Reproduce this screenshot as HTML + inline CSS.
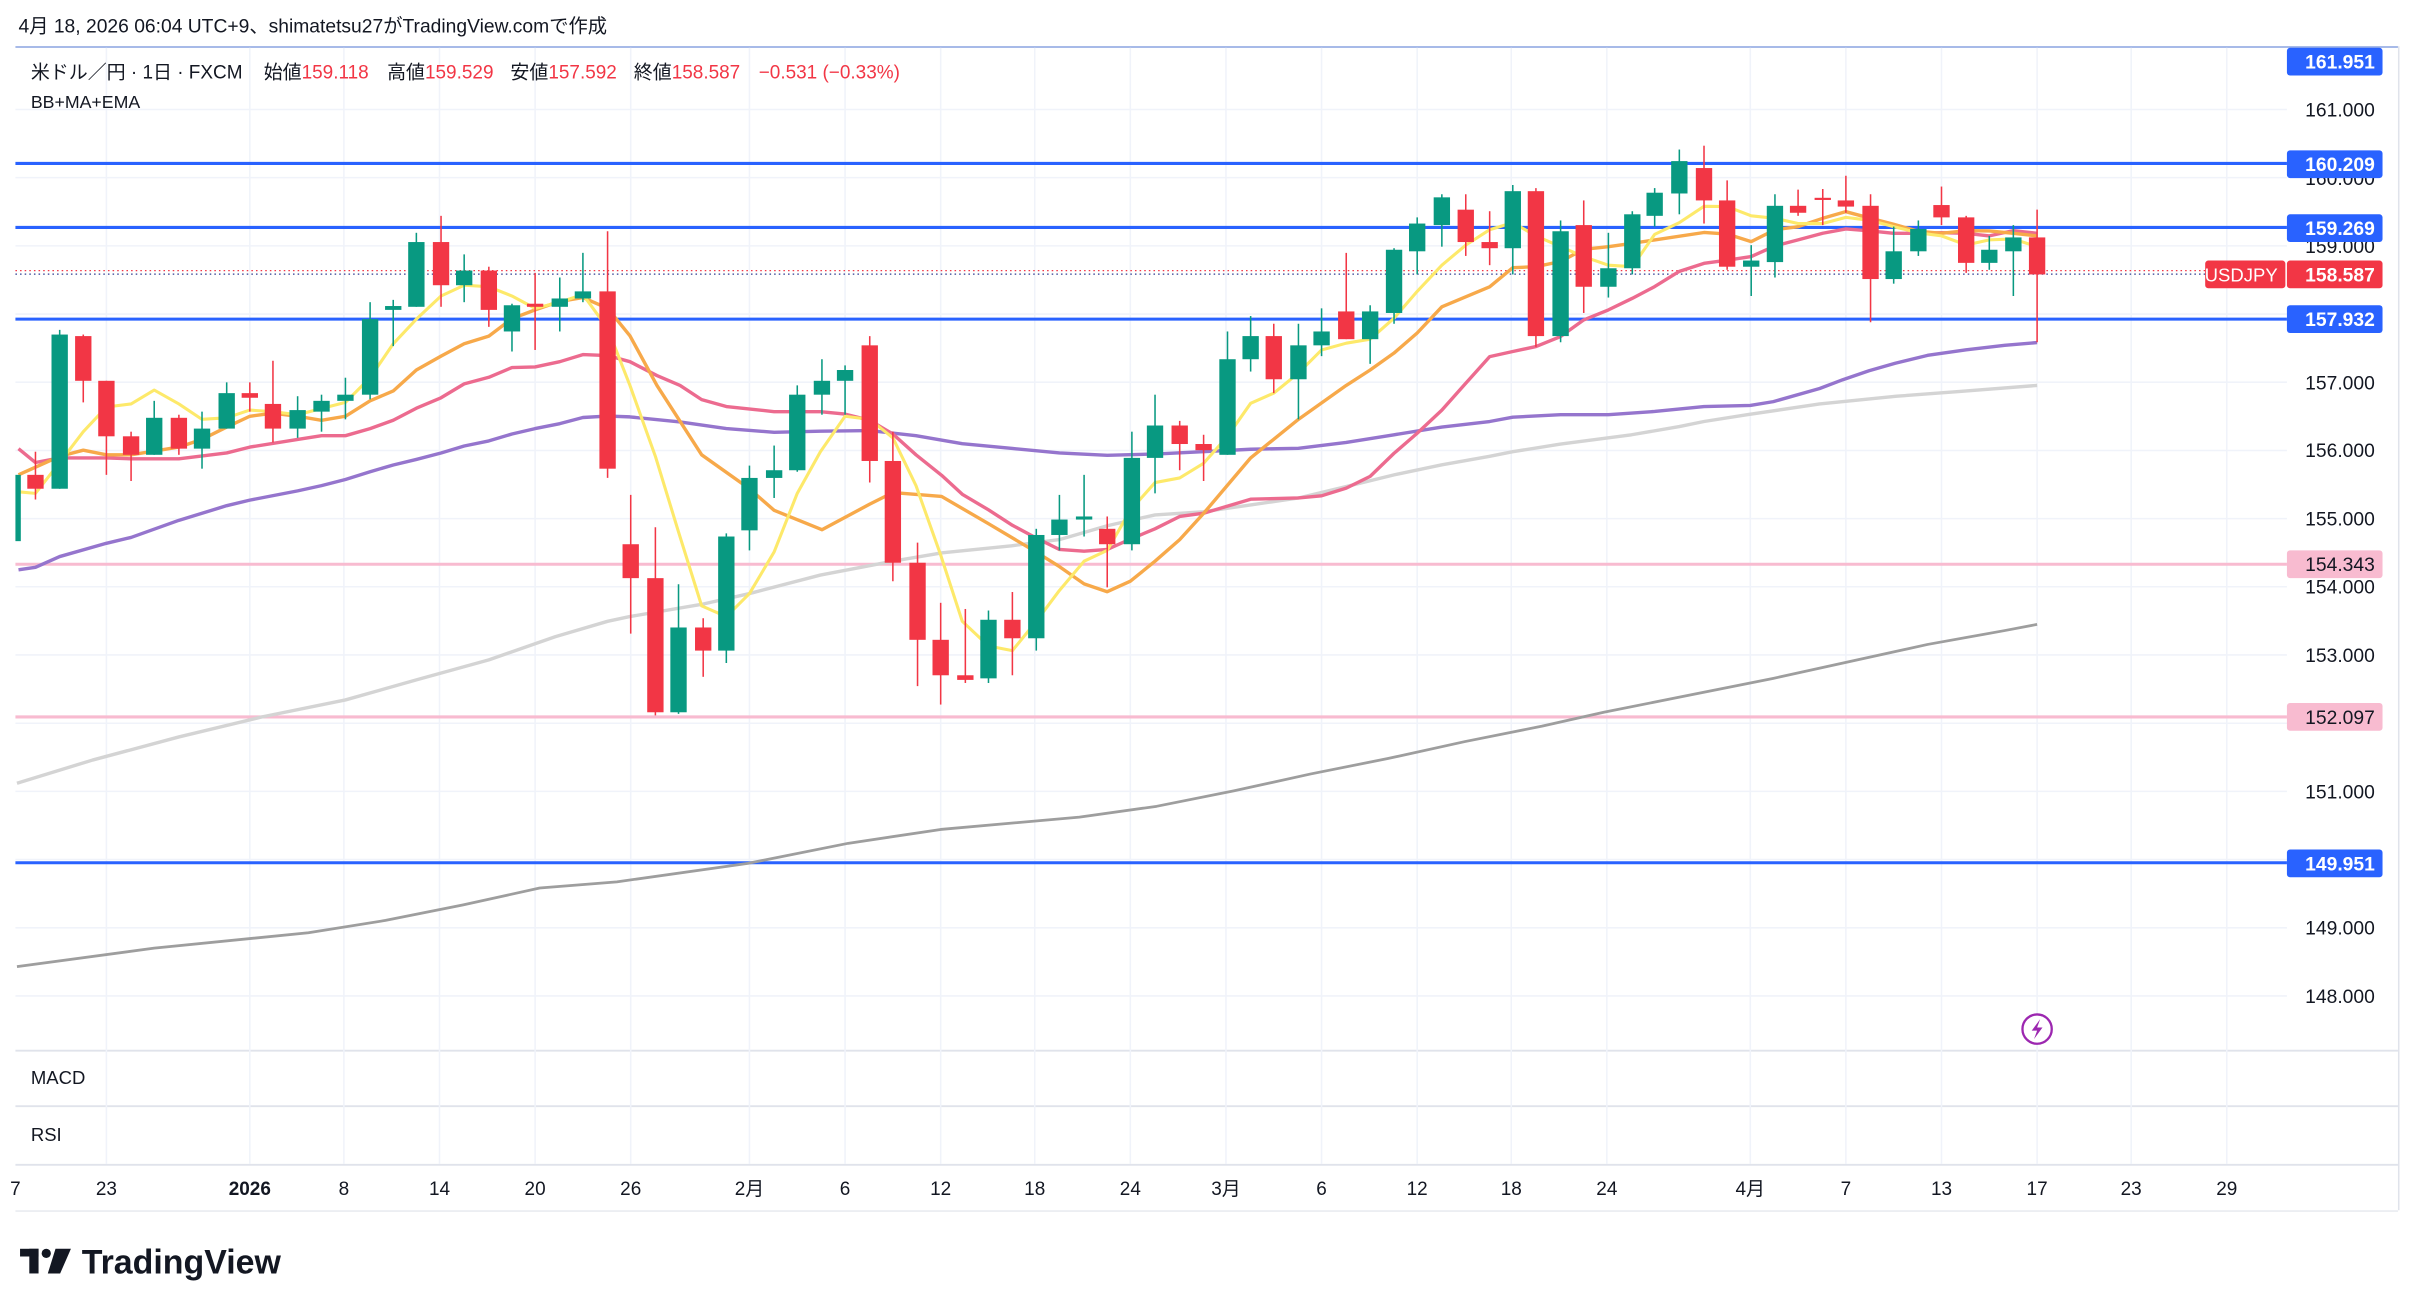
<!DOCTYPE html>
<html><head><meta charset="utf-8"><style>
html,body{margin:0;padding:0;background:#fff;}
svg{display:block;}
text{font-family:"Liberation Sans","Noto Sans CJK JP",sans-serif;}
</style></head><body>
<svg width="2418" height="1312" viewBox="0 0 1568 851" preserveAspectRatio="none" xmlns="http://www.w3.org/2000/svg">
<rect width="1568" height="851" fill="#fff"/>
<text x="12" y="21" font-size="12.5" fill="#131722">4月 18, 2026 06:04 UTC+9、shimatetsu27がTradingView.comで作成</text>
<!-- frame -->
<line x1="10" y1="30.5" x2="1555" y2="30.5" stroke="#8aa4e0" stroke-width="1"/>
<line x1="1555.5" y1="30" x2="1555.5" y2="785" stroke="#e0e3eb" stroke-width="1"/>
<line x1="10" y1="681.5" x2="1555" y2="681.5" stroke="#e0e3eb" stroke-width="1.2"/>
<line x1="10" y1="717.5" x2="1555" y2="717.5" stroke="#e0e3eb" stroke-width="1.2"/>
<line x1="10" y1="755.5" x2="1555" y2="755.5" stroke="#e0e3eb" stroke-width="1.2"/>
<line x1="10" y1="785.5" x2="1555" y2="785.5" stroke="#eceef2" stroke-width="1.2"/>
<!-- grid -->
<g stroke="#f0f3fa" stroke-width="1">
<line x1="10" y1="71" x2="1483" y2="71"/><line x1="10" y1="115.2" x2="1483" y2="115.2"/><line x1="10" y1="159.5" x2="1483" y2="159.5"/><line x1="10" y1="203.7" x2="1483" y2="203.7"/><line x1="10" y1="247.9" x2="1483" y2="247.9"/><line x1="10" y1="292.2" x2="1483" y2="292.2"/><line x1="10" y1="336.4" x2="1483" y2="336.4"/><line x1="10" y1="380.6" x2="1483" y2="380.6"/><line x1="10" y1="424.8" x2="1483" y2="424.8"/><line x1="10" y1="469.1" x2="1483" y2="469.1"/><line x1="10" y1="513.3" x2="1483" y2="513.3"/><line x1="10" y1="557.5" x2="1483" y2="557.5"/><line x1="10" y1="601.8" x2="1483" y2="601.8"/><line x1="10" y1="646" x2="1483" y2="646"/>
<line x1="69" y1="31" x2="69" y2="755"/><line x1="162" y1="31" x2="162" y2="755"/><line x1="223" y1="31" x2="223" y2="755"/><line x1="285" y1="31" x2="285" y2="755"/><line x1="347" y1="31" x2="347" y2="755"/><line x1="409" y1="31" x2="409" y2="755"/><line x1="486" y1="31" x2="486" y2="755"/><line x1="548" y1="31" x2="548" y2="755"/><line x1="610" y1="31" x2="610" y2="755"/><line x1="671" y1="31" x2="671" y2="755"/><line x1="733" y1="31" x2="733" y2="755"/><line x1="795" y1="31" x2="795" y2="755"/><line x1="857" y1="31" x2="857" y2="755"/><line x1="919" y1="31" x2="919" y2="755"/><line x1="980" y1="31" x2="980" y2="755"/><line x1="1042" y1="31" x2="1042" y2="755"/><line x1="1135" y1="31" x2="1135" y2="755"/><line x1="1197" y1="31" x2="1197" y2="755"/><line x1="1259" y1="31" x2="1259" y2="755"/><line x1="1321" y1="31" x2="1321" y2="755"/><line x1="1382" y1="31" x2="1382" y2="755"/><line x1="1444" y1="31" x2="1444" y2="755"/>
</g>
<!-- horizontal levels -->
<g stroke-width="2">
<line x1="10" y1="106" x2="1483" y2="106" stroke="#2962ff"/>
<line x1="10" y1="147.5" x2="1483" y2="147.5" stroke="#2962ff"/>
<line x1="10" y1="207" x2="1483" y2="207" stroke="#2962ff"/>
<line x1="10" y1="559.6" x2="1483" y2="559.6" stroke="#2962ff"/>
<line x1="10" y1="366" x2="1483" y2="366" stroke="#f8bbd0"/>
<line x1="10" y1="465" x2="1483" y2="465" stroke="#f8bbd0"/>
</g>
<line x1="10" y1="175.5" x2="1430" y2="175.5" stroke="#f23645" stroke-width="0.8" stroke-dasharray="1,2"/>
<line x1="10" y1="177.8" x2="1430" y2="177.8" stroke="#2a3a8f" stroke-width="0.8" stroke-dasharray="1,2"/>
<!-- MAs -->
<g fill="none" stroke-linejoin="round" stroke-width="2.2">
<polyline stroke="#9e9e9e" stroke-width="1.8" points="11,627 100,615 200,605 250,597 300,587 350,576 400,572 485,560 550,547 610,538 700,530 750,523 800,513 850,502 900,492 950,481 1000,471 1040,462 1100,450 1150,440 1200,429 1250,418 1300,409 1321,405"/>
<polyline stroke="#d4d4d4" points="11,508 60,493 116,478 170,465 224,454 270,441 317,428 360,413 394,403 408,400 455,392 486,385 532,373 579,364 611,358.6 656,354 687,350 718,341 749,334 780,332 811,327.5 842,323 873,315.6 904,308 935,301.5 966,296 981,293 1012,288 1043,284 1058,282 1089,276.7 1105,273.4 1133,269 1180,262 1230,257 1270,254 1321,250"/>
<polyline stroke="#9575cd" points="12,369.6 23,368 38.7,361 69,352.4 85,348.6 116,337.5 147,328 162,324.4 193,318.4 208.5,315 224,311 240,306 255,301.6 270,298 286,293.8 301,289.3 317,286 332,281.5 347,278 363,274.8 378,270.8 394,269.9 408.5,270.4 441,273.7 471,278 502,280.4 532,279.7 564,279.3 594,282.6 624,287.8 656.5,290.9 687,293.8 718,295.3 749,294.5 780,293 811,291.4 842,290.8 873,287 904,282 935,277 966,273.4 981,270.6 1012,269 1043,269 1073,266.9 1105,263.7 1135,263 1150,260.5 1180,252 1195,246.3 1212,240.5 1229,235.6 1250,230.5 1275,226.9 1300,224 1321,222.2"/>
<polyline stroke="#ec6b8f" points="12,291 23,300 38.7,297 69,297 85,297.6 116,297.6 147,293.8 162,290 193,285 208.5,282.6 224,282.6 240,278 255,272.6 270,264.8 286,258 301,249 317,244.7 332,238.4 347,238 363,234.6 378,230 394,230.6 408.5,234.6 426,243.6 441,250 455,259.2 471,263.7 502,267 532,267 548,268.6 564,272.6 579,281.5 594,295 610.6,308.3 624,320.6 641,330.7 656.5,340.7 671,348.5 687,356.4 703,357.5 718,356.4 733,349.7 749,343 765,335 780.5,332.9 811,323.8 842,323 857,321.6 873,316.6 888.5,309 904,294 919,281 935,266 950.5,248.6 966,231.3 981,228 996,224.8 1012,218.3 1027,207.5 1043,201 1058.5,193.5 1073,185.9 1089,176 1105,170.8 1120,168.8 1135.6,166.4 1151,159.5 1166,155.6 1182,151.3 1197,148.5 1213,149.8 1228,151.3 1244,151.3 1259,150.9 1275,151.3 1290,153 1305.6,149.6 1321,151.3"/>
<polyline stroke="#f7a94a" points="12,308 38.7,296 54,292 69,295 85,295 116,290 131,285 147,277 162,270 177,268 193,270 208.5,272.6 224,270 240,260 255,253.6 270,240 286,231 301,223 317,218 332,206.7 347,201 363,195.5 378,193 394,200 408.5,217.8 426,250 455,295 486,317 502,331 533,343.6 564,327 579,319.5 610.6,322 641,339.7 671,357.5 687,367.5 703,378.7 718,383.8 733,377 749,364 765,350 780.5,333 811,297 842,272 873,250 888.5,240 904,229 919,216 935,199 966,186 981,173.6 996,173 1012,169.6 1027,161.7 1043,160 1058.5,157.8 1073,155.6 1105,150.8 1120,151.8 1135.6,156.7 1151,149 1166,147 1182,141.6 1197,137.3 1213,141.6 1228,145.5 1244,150 1259,151.3 1275,149.6 1290,149.8 1305.6,151.3 1321,153"/>
<polyline stroke="#fde96a" stroke-width="2" points="12,319 23,320 38.7,300 54,280 69,264 85,262 100,253 116,262 131,272 147,271 162,266 177,267 193,269 208.5,265 224,261 240,245 255,223 270,207 286,192 301,185 317,186 332,192 347,200 363,196 378,191 394,213 408.5,250 425,296 440,345 455,393 471,400 486,385 502,358 517,320 532,293 548,270 564,272 579,284 594,315 610,360 624,403 641,419 656.5,422 672,403 687,383 703,364 718,357 733,331 749,313 765,310 780.5,300.5 796,283 811,261.6 826,255 842,242 857,227 873,222.6 888.5,220 904,206.4 919,189 935,172 950.5,159 966,149 981,144.4 996,153 1012,160 1027,166.5 1043,172 1058.5,173 1073,152 1089,144.4 1105,133.8 1120,134 1135.6,140 1151,141.6 1166,145 1182,145 1197,141 1213,143 1228,147 1244,151 1259,153 1275,158.9 1290,155.6 1305.6,155 1321,160"/>
</g>
<!-- candles -->
<g stroke-width="1">
<g fill="#089981" stroke="#089981">
<rect x="10" y="308" width="3.5" height="43" stroke="none"/>
<line x1="38.7" y1="214" x2="38.7" y2="317"/><rect x="33.4" y="217" width="10.6" height="100" stroke="none"/>
<line x1="100" y1="260" x2="100" y2="295"/><rect x="94.7" y="271" width="10.6" height="24" stroke="none"/>
<line x1="131" y1="267" x2="131" y2="304"/><rect x="125.7" y="278" width="10.6" height="13" stroke="none"/>
<line x1="147" y1="248" x2="147" y2="278"/><rect x="141.7" y="255" width="10.6" height="23" stroke="none"/>
<line x1="193" y1="257" x2="193" y2="284"/><rect x="187.7" y="266" width="10.6" height="12" stroke="none"/>
<line x1="208.5" y1="256" x2="208.5" y2="280"/><rect x="203.2" y="260" width="10.6" height="7" stroke="none"/>
<line x1="224" y1="245" x2="224" y2="272"/><rect x="218.7" y="256" width="10.6" height="4" stroke="none"/>
<line x1="240" y1="196" x2="240" y2="259"/><rect x="234.7" y="207" width="10.6" height="49" stroke="none"/>
<line x1="255" y1="194.5" x2="255" y2="224.5"/><rect x="249.7" y="198.5" width="10.6" height="2.5" stroke="none"/>
<line x1="270" y1="151" x2="270" y2="199"/><rect x="264.7" y="157" width="10.6" height="42" stroke="none"/>
<line x1="301" y1="165" x2="301" y2="196"/><rect x="295.7" y="175.5" width="10.6" height="9.5" stroke="none"/>
<line x1="332" y1="197" x2="332" y2="228"/><rect x="326.7" y="198" width="10.6" height="17" stroke="none"/>
<line x1="363" y1="180" x2="363" y2="215"/><rect x="357.7" y="193.6" width="10.6" height="5.4" stroke="none"/>
<line x1="378" y1="164" x2="378" y2="196"/><rect x="372.7" y="189" width="10.6" height="4.6" stroke="none"/>
<line x1="440" y1="379" x2="440" y2="463"/><rect x="434.7" y="407" width="10.6" height="55" stroke="none"/>
<line x1="471" y1="346" x2="471" y2="430"/><rect x="465.7" y="348" width="10.6" height="74" stroke="none"/>
<line x1="486" y1="302" x2="486" y2="357"/><rect x="480.7" y="310" width="10.6" height="34" stroke="none"/>
<line x1="502" y1="289" x2="502" y2="323"/><rect x="496.7" y="305" width="10.6" height="5" stroke="none"/>
<line x1="517" y1="250" x2="517" y2="306"/><rect x="511.7" y="256" width="10.6" height="49" stroke="none"/>
<line x1="533" y1="233" x2="533" y2="269"/><rect x="527.7" y="247" width="10.6" height="9" stroke="none"/>
<line x1="548" y1="237" x2="548" y2="269"/><rect x="542.7" y="240" width="10.6" height="7" stroke="none"/>
<line x1="641" y1="396" x2="641" y2="443"/><rect x="635.7" y="402" width="10.6" height="38" stroke="none"/>
<line x1="672" y1="343" x2="672" y2="422"/><rect x="666.7" y="347" width="10.6" height="67" stroke="none"/>
<line x1="687" y1="321" x2="687" y2="357"/><rect x="681.7" y="337" width="10.6" height="10" stroke="none"/>
<line x1="703" y1="308" x2="703" y2="348"/><rect x="697.7" y="335" width="10.6" height="2" stroke="none"/>
<line x1="734" y1="280" x2="734" y2="357"/><rect x="728.7" y="297" width="10.6" height="56" stroke="none"/>
<line x1="749" y1="256" x2="749" y2="320"/><rect x="743.7" y="276" width="10.6" height="21" stroke="none"/>
<line x1="796" y1="215" x2="796" y2="295"/><rect x="790.7" y="233" width="10.6" height="62" stroke="none"/>
<line x1="811" y1="205" x2="811" y2="241"/><rect x="805.7" y="218" width="10.6" height="15" stroke="none"/>
<line x1="842" y1="210" x2="842" y2="272"/><rect x="836.7" y="224" width="10.6" height="22" stroke="none"/>
<line x1="857" y1="200" x2="857" y2="231"/><rect x="851.7" y="215" width="10.6" height="9" stroke="none"/>
<line x1="888.5" y1="198" x2="888.5" y2="236"/><rect x="883.2" y="202" width="10.6" height="18" stroke="none"/>
<line x1="904" y1="161" x2="904" y2="210"/><rect x="898.7" y="162" width="10.6" height="41" stroke="none"/>
<line x1="919" y1="141" x2="919" y2="178"/><rect x="913.7" y="145" width="10.6" height="18" stroke="none"/>
<line x1="935" y1="126" x2="935" y2="160"/><rect x="929.7" y="128" width="10.6" height="18" stroke="none"/>
<line x1="981" y1="120" x2="981" y2="178"/><rect x="975.7" y="124" width="10.6" height="37" stroke="none"/>
<line x1="1012" y1="143" x2="1012" y2="222"/><rect x="1006.7" y="150" width="10.6" height="68" stroke="none"/>
<line x1="1043" y1="151" x2="1043" y2="193"/><rect x="1037.7" y="174" width="10.6" height="12" stroke="none"/>
<line x1="1058.5" y1="137" x2="1058.5" y2="178"/><rect x="1053.2" y="139" width="10.6" height="35" stroke="none"/>
<line x1="1073" y1="122" x2="1073" y2="147"/><rect x="1067.7" y="125" width="10.6" height="15" stroke="none"/>
<line x1="1089" y1="97" x2="1089" y2="139"/><rect x="1083.7" y="104.5" width="10.6" height="21" stroke="none"/>
<line x1="1135.6" y1="159" x2="1135.6" y2="192"/><rect x="1130.3" y="169" width="10.6" height="4" stroke="none"/>
<line x1="1151" y1="126" x2="1151" y2="180"/><rect x="1145.7" y="133.5" width="10.6" height="36.5" stroke="none"/>
<line x1="1228" y1="147" x2="1228" y2="184"/><rect x="1222.7" y="163" width="10.6" height="18" stroke="none"/>
<line x1="1244" y1="143" x2="1244" y2="166"/><rect x="1238.7" y="148.5" width="10.6" height="14.5" stroke="none"/>
<line x1="1290" y1="153" x2="1290" y2="175"/><rect x="1284.7" y="162" width="10.6" height="8.5" stroke="none"/>
<line x1="1305.6" y1="146" x2="1305.6" y2="192"/><rect x="1300.3" y="154" width="10.6" height="9" stroke="none"/>
</g>
<g fill="#f23645" stroke="#f23645">
<line x1="23" y1="293" x2="23" y2="324"/><rect x="17.7" y="308" width="10.6" height="9" stroke="none"/>
<line x1="54" y1="217" x2="54" y2="261"/><rect x="48.7" y="218" width="10.6" height="29" stroke="none"/>
<line x1="69" y1="247" x2="69" y2="308"/><rect x="63.7" y="247" width="10.6" height="36" stroke="none"/>
<line x1="85" y1="280" x2="85" y2="312"/><rect x="79.7" y="283" width="10.6" height="12" stroke="none"/>
<line x1="116" y1="269" x2="116" y2="295"/><rect x="110.7" y="271" width="10.6" height="20" stroke="none"/>
<line x1="162" y1="248" x2="162" y2="267"/><rect x="156.7" y="255" width="10.6" height="3" stroke="none"/>
<line x1="177" y1="234" x2="177" y2="287"/><rect x="171.7" y="262" width="10.6" height="16" stroke="none"/>
<line x1="286" y1="140" x2="286" y2="199"/><rect x="280.7" y="157" width="10.6" height="28" stroke="none"/>
<line x1="317" y1="173" x2="317" y2="212"/><rect x="311.7" y="175.5" width="10.6" height="25.5" stroke="none"/>
<line x1="347" y1="177" x2="347" y2="227"/><rect x="341.7" y="197" width="10.6" height="2" stroke="none"/>
<line x1="394" y1="150" x2="394" y2="310"/><rect x="388.7" y="189" width="10.6" height="115" stroke="none"/>
<line x1="409" y1="321" x2="409" y2="411"/><rect x="403.7" y="353" width="10.6" height="22" stroke="none"/>
<line x1="425" y1="342" x2="425" y2="464"/><rect x="419.7" y="375" width="10.6" height="87" stroke="none"/>
<line x1="456" y1="401" x2="456" y2="439"/><rect x="450.7" y="407" width="10.6" height="15" stroke="none"/>
<line x1="564" y1="218" x2="564" y2="313"/><rect x="558.7" y="224" width="10.6" height="75" stroke="none"/>
<line x1="579" y1="280" x2="579" y2="377"/><rect x="573.7" y="299" width="10.6" height="66" stroke="none"/>
<line x1="595" y1="352" x2="595" y2="445"/><rect x="589.7" y="365" width="10.6" height="50" stroke="none"/>
<line x1="610" y1="391" x2="610" y2="457"/><rect x="604.7" y="415" width="10.6" height="23" stroke="none"/>
<line x1="626" y1="395" x2="626" y2="443"/><rect x="620.7" y="438" width="10.6" height="3" stroke="none"/>
<line x1="656.5" y1="384" x2="656.5" y2="438"/><rect x="651.2" y="402" width="10.6" height="12" stroke="none"/>
<line x1="718" y1="335" x2="718" y2="381"/><rect x="712.7" y="343" width="10.6" height="10" stroke="none"/>
<line x1="765" y1="273" x2="765" y2="305"/><rect x="759.7" y="276" width="10.6" height="12" stroke="none"/>
<line x1="780.5" y1="282" x2="780.5" y2="312"/><rect x="775.2" y="288" width="10.6" height="4" stroke="none"/>
<line x1="826" y1="210" x2="826" y2="255"/><rect x="820.7" y="218" width="10.6" height="28" stroke="none"/>
<line x1="873" y1="164" x2="873" y2="220"/><rect x="867.7" y="202" width="10.6" height="18" stroke="none"/>
<line x1="950.5" y1="126" x2="950.5" y2="166"/><rect x="945.2" y="136" width="10.6" height="21" stroke="none"/>
<line x1="966" y1="137" x2="966" y2="172"/><rect x="960.7" y="157" width="10.6" height="4" stroke="none"/>
<line x1="996" y1="122" x2="996" y2="225"/><rect x="990.7" y="124" width="10.6" height="94" stroke="none"/>
<line x1="1027" y1="130" x2="1027" y2="203"/><rect x="1021.7" y="146" width="10.6" height="40" stroke="none"/>
<line x1="1105" y1="94.5" x2="1105" y2="145"/><rect x="1099.7" y="109" width="10.6" height="21" stroke="none"/>
<line x1="1120" y1="117" x2="1120" y2="175"/><rect x="1114.7" y="130" width="10.6" height="43" stroke="none"/>
<line x1="1166" y1="123" x2="1166" y2="140"/><rect x="1160.7" y="133.5" width="10.6" height="4.5" stroke="none"/>
<line x1="1182" y1="122.6" x2="1182" y2="146"/><rect x="1176.7" y="128.3" width="10.6" height="1.4" stroke="none"/>
<line x1="1197" y1="114" x2="1197" y2="138"/><rect x="1191.7" y="130" width="10.6" height="4" stroke="none"/>
<line x1="1213" y1="126" x2="1213" y2="209"/><rect x="1207.7" y="133.5" width="10.6" height="47.5" stroke="none"/>
<line x1="1259" y1="121" x2="1259" y2="146"/><rect x="1253.7" y="133" width="10.6" height="8" stroke="none"/>
<line x1="1275" y1="140" x2="1275" y2="177"/><rect x="1269.7" y="141" width="10.6" height="29.5" stroke="none"/>
<line x1="1321" y1="136" x2="1321" y2="222"/><rect x="1315.7" y="154" width="10.6" height="24" stroke="none"/>
</g>
</g>
<!-- flash icon -->
<circle cx="1321" cy="667.5" r="9.5" fill="#fff" stroke="#9c27b0" stroke-width="1.5"/>
<path d="M1323 661 L1317.5 668.5 L1321 668.5 L1319 674 L1324.5 666.5 L1321 666.5 Z" fill="#9c27b0"/>
<!-- price axis -->
<g font-size="12.5" fill="#131722" text-anchor="end">
<text x="1540" y="75.5">161.000</text>
<text x="1540" y="164">159.000</text>
<text x="1540" y="252.5">157.000</text>
<text x="1540" y="296.5">156.000</text>
<text x="1540" y="341">155.000</text>
<text x="1540" y="385">154.000</text>
<text x="1540" y="429.5">153.000</text>
<text x="1540" y="518">151.000</text>
<text x="1540" y="606">149.000</text>
<text x="1540" y="650.5">148.000</text>
<text x="1540" y="120">160.000</text>
</g>
<g font-size="12.5" font-weight="bold" fill="#fff" text-anchor="end">
<rect x="1483" y="31" width="62" height="18" rx="2" fill="#2962ff"/><text x="1540" y="44.5">161.951</text>
<rect x="1483" y="97.5" width="62" height="18" rx="2" fill="#2962ff"/><text x="1540" y="111">160.209</text>
<rect x="1483" y="139" width="62" height="18" rx="2" fill="#2962ff"/><text x="1540" y="152.5">159.269</text>
<rect x="1483" y="198" width="62" height="18" rx="2" fill="#2962ff"/><text x="1540" y="211.5">157.932</text>
<rect x="1483" y="551" width="62" height="18" rx="2" fill="#2962ff"/><text x="1540" y="564.5">149.951</text>
<rect x="1430" y="169" width="52" height="18" rx="2" fill="#f23645"/><text x="1477" y="182.5" font-size="12" font-weight="normal">USDJPY</text>
<rect x="1483" y="169" width="62" height="18" rx="2" fill="#f23645"/><text x="1540" y="182.5">158.587</text>
<rect x="1483" y="357" width="62" height="18" rx="2" fill="#f8bbd0"/><text x="1540" y="370.5" fill="#131722" font-weight="normal">154.343</text>
<rect x="1483" y="456" width="62" height="18" rx="2" fill="#f8bbd0"/><text x="1540" y="469.5" fill="#131722" font-weight="normal">152.097</text>
</g>
<!-- legend -->
<g font-size="12.3" fill="#131722">
<text x="20" y="51">米ドル／円 · 1日 · FXCM</text>
<text x="171" y="51">始値<tspan fill="#f23645">159.118</tspan></text>
<text x="251" y="51">高値<tspan fill="#f23645">159.529</tspan></text>
<text x="331" y="51">安値<tspan fill="#f23645">157.592</tspan></text>
<text x="411" y="51">終値<tspan fill="#f23645">158.587</tspan></text>
<text x="492" y="51" fill="#f23645">−0.531 (−0.33%)</text>
</g>
<text x="20" y="70" font-size="11.5" fill="#131722">BB+MA+EMA</text>
<text x="20" y="703" font-size="12" fill="#131722">MACD</text>
<text x="20" y="740" font-size="12" fill="#131722">RSI</text>
<!-- time axis -->
<g font-size="12.3" fill="#131722" text-anchor="middle">
<text x="10" y="775">7</text><text x="69" y="775">23</text><text x="162" y="775" font-weight="bold">2026</text><text x="223" y="775">8</text><text x="285" y="775">14</text><text x="347" y="775">20</text><text x="409" y="775">26</text><text x="486" y="775">2月</text><text x="548" y="775">6</text><text x="610" y="775">12</text><text x="671" y="775">18</text><text x="733" y="775">24</text><text x="795" y="775">3月</text><text x="857" y="775">6</text><text x="919" y="775">12</text><text x="980" y="775">18</text><text x="1042" y="775">24</text><text x="1135" y="775">4月</text><text x="1197" y="775">7</text><text x="1259" y="775">13</text><text x="1321" y="775">17</text><text x="1382" y="775">23</text><text x="1444" y="775">29</text>
</g>
<!-- logo -->
<g fill="#131722">
<rect x="13" y="810" width="12" height="5"/><rect x="19" y="810" width="6" height="16"/>
<circle cx="30" cy="813" r="3"/>
<path d="M36 810 L46 810 L39 826 L31 826 Z"/>
</g>
<text x="53" y="826" font-size="22" font-weight="bold" fill="#131722">TradingView</text>
</svg>
</body></html>
